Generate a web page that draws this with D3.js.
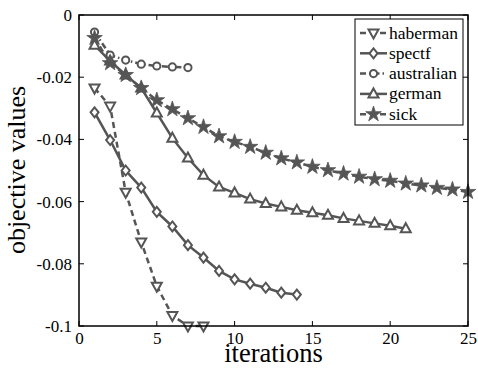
<!DOCTYPE html>
<html><head><meta charset="utf-8">
<script src="https://cdn.jsdelivr.net/npm/d3@7"></script>
<style>body{margin:0;background:#fff}svg{display:block}</style>
</head><body>
<svg id="c" width="478" height="368"></svg>
<script>
const xTicks = [0,5,10,15,20,25];
const yTicks = [0,-0.02,-0.04,-0.06,-0.08,-0.1];
const yTickLabels = ["0","-0.02","-0.04","-0.06","-0.08","-0.1"];
const seriesNames = ["haberman","spectf","australian","german","sick"];
const haberman = [-0.0235,-0.0293,-0.0570,-0.0730,-0.0872,-0.0966,-0.1000,-0.1000];
const spectf = [-0.0313,-0.0402,-0.0500,-0.0555,-0.0633,-0.0680,-0.0740,-0.0780,-0.0823,-0.0850,-0.0864,-0.0877,-0.0893,-0.0899];
const australian = [-0.0055,-0.0129,-0.0145,-0.0158,-0.0164,-0.0167,-0.0169];
const german = [-0.0097,-0.0148,-0.0193,-0.0235,-0.0315,-0.0396,-0.0460,-0.0515,-0.0553,-0.0572,-0.0592,-0.0606,-0.0617,-0.0628,-0.0636,-0.0644,-0.0654,-0.0662,-0.0670,-0.0678,-0.0687];
const sick = [-0.0074,-0.0155,-0.0193,-0.0235,-0.0274,-0.0303,-0.0332,-0.0360,-0.0390,-0.0408,-0.0424,-0.0443,-0.0461,-0.0474,-0.0488,-0.0499,-0.0510,-0.0520,-0.0528,-0.0533,-0.0542,-0.0548,-0.0556,-0.0561,-0.0569];

const FONT = "'Liberation Serif'";
const svg = d3.select("#c");
const L=79,R=468,T=15,B=326;
const x = d3.scaleLinear().domain([0,25]).range([L,R]);
const y = d3.scaleLinear().domain([-0.1,0]).range([B,T]);
const col = "#555";

const styles = {
  haberman:{data:haberman,dash:"6,4",sym:"tdown"},
  spectf:{data:spectf,dash:null,sym:"diamond"},
  australian:{data:australian,dash:"6,3,1.5,3",sym:"circle"},
  german:{data:german,dash:null,sym:"tup"},
  sick:{data:sick,dash:"6,4",sym:"star"}
};

function marker(g,sym,cx,cy){
  if(sym==="circle"){
    g.append("circle").attr("cx",cx).attr("cy",cy).attr("r",3.6).attr("fill","#fff").attr("stroke",col).attr("stroke-width",2);
  } else if(sym==="diamond"){
    g.append("path").attr("d",`M${cx},${cy-5}L${cx+4},${cy}L${cx},${cy+5}L${cx-4},${cy}Z`).attr("fill","#fff").attr("stroke",col).attr("stroke-width",2);
  } else if(sym==="tup"){
    g.append("path").attr("d",`M${cx},${cy-5.5}L${cx+5},${cy+3.5}L${cx-5},${cy+3.5}Z`).attr("fill","#fff").attr("stroke",col).attr("stroke-width",2);
  } else if(sym==="tdown"){
    g.append("path").attr("d",`M${cx},${cy+5.5}L${cx+5},${cy-3.5}L${cx-5},${cy-3.5}Z`).attr("fill","#fff").attr("stroke",col).attr("stroke-width",2);
  } else if(sym==="star"){
    g.append("path").attr("d",d3.symbol(d3.symbolStar,75)()).attr("transform",`translate(${cx},${cy})`).attr("fill",col).attr("stroke",col).attr("stroke-width",0.8);
  }
}

const gx = svg.append("g").attr("transform",`translate(0,${B})`)
  .call(d3.axisBottom(x).tickValues(xTicks).tickSize(0).tickPadding(6).tickFormat(d3.format("d")));
gx.select(".domain").remove();
gx.selectAll("text").attr("font-size",17).attr("fill","#000").style("font-family",FONT);
const gy = svg.append("g").attr("transform",`translate(${L},0)`)
  .call(d3.axisLeft(y).tickValues(yTicks).tickSize(0).tickPadding(7).tickFormat((d,i)=>yTickLabels[i]));
gy.select(".domain").remove();
gy.selectAll("text").attr("font-size",17).attr("fill","#000").style("font-family",FONT);

const ticks = svg.append("g").attr("stroke","#000").attr("stroke-width",1);
xTicks.forEach(t=>{
  ticks.append("line").attr("x1",x(t)).attr("x2",x(t)).attr("y1",B).attr("y2",B-5);
  ticks.append("line").attr("x1",x(t)).attr("x2",x(t)).attr("y1",T).attr("y2",T+5);
});
yTicks.forEach(t=>{
  ticks.append("line").attr("x1",L).attr("x2",L+5).attr("y1",y(t)).attr("y2",y(t));
  ticks.append("line").attr("x1",R).attr("x2",R-5).attr("y1",y(t)).attr("y2",y(t));
});

const plot = svg.append("g");
const line = d3.line().x((d,i)=>x(i+1)).y(d=>y(d));
seriesNames.forEach(n=>{
  const s = styles[n];
  plot.append("path").datum(s.data).attr("d",line).attr("fill","none").attr("stroke",col).attr("stroke-width",2.5)
    .attr("stroke-dasharray",s.dash);
});
seriesNames.forEach(n=>{
  const s = styles[n];
  s.data.forEach((d,i)=>marker(plot,s.sym,x(i+1),y(d)));
});

svg.append("rect").attr("x",L).attr("y",T).attr("width",R-L).attr("height",B-T).attr("fill","none").attr("stroke","#000").attr("stroke-width",1.5);

const lg = svg.append("g");
lg.append("rect").attr("x",355).attr("y",19).attr("width",108).attr("height",106).attr("fill","#fff").attr("stroke","#000").attr("stroke-width",1);
seriesNames.forEach((n,i)=>{
  const s = styles[n];
  const ly = 33 + i*20.3;
  lg.append("line").attr("x1",360).attr("x2",387).attr("y1",ly).attr("y2",ly).attr("stroke",col).attr("stroke-width",2.5).attr("stroke-dasharray",s.dash);
  marker(lg,s.sym,373.5,ly);
  lg.append("text").attr("x",389).attr("y",ly+5.5).attr("font-size",17.5).style("font-family",FONT).text(n);
});

svg.append("text").attr("x",(L+R)/2).attr("y",362).attr("text-anchor","middle").attr("font-size",26.5).style("font-family",FONT).text("iterations");
svg.append("text").attr("transform",`translate(25,170) rotate(-90)`).attr("text-anchor","middle").attr("font-size",26).style("font-family",FONT).text("objective values");
</script>
</body></html>
